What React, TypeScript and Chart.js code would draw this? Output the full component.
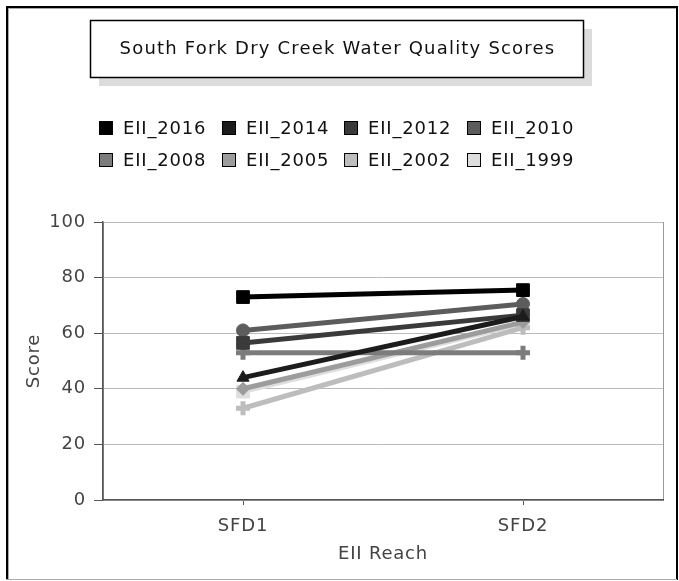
import React, { useEffect, useRef } from "react";
import { Chart, registerables } from "chart.js";
Chart.register(...registerables);

const chartTitle = "South Fork Dry Creek Water Quality Scores";
const categories = ["SFD1", "SFD2"];
const seriesNames = ["EII_2016", "EII_2014", "EII_2012", "EII_2010", "EII_2008", "EII_2005", "EII_2002", "EII_1999"];
const seriesColors = ["#000000", "#1c1c1c", "#3a3a3a", "#5c5c5c", "#7c7c7c", "#9c9c9c", "#bdbdbd", "#dedede"];
const pointStyles = ["rect", "triangle", "rect", "circle", "cross", "rectRot", "cross", "rect"];
const eii2016 = [73, 75.5];
const eii2014 = [44, 66];
const eii2012 = [56.5, 66.5];
const eii2010 = [61, 70.5];
const eii2008 = [53, 53];
const eii2005 = [40, 64];
const eii2002 = [33, 62];
const eii1999 = [39, 63.5];
const seriesValues = [eii2016, eii2014, eii2012, eii2010, eii2008, eii2005, eii2002, eii1999];
const yTicks = [0, 20, 40, 60, 80, 100];
const xTitle = "EII Reach";
const yTitle = "Score";

const FONT = "'DejaVu Sans', sans-serif";

const markerRadius = (s: string) => (s === "rect" ? 9 : s === "cross" ? 7 : s === "triangle" ? 7 : 6.5);

const decor = {
  id: "decor",
  beforeDraw(chart: any) {
    const ctx = chart.ctx;
    const W = chart.width, H = chart.height;
    ctx.save();
    ctx.fillStyle = "#ffffff";
    ctx.fillRect(0, 0, W, H);
    // outer frame
    ctx.fillStyle = "#000";
    ctx.fillRect(6, 6, 2, H - 7);
    ctx.fillRect(6, 6, W - 8, 2);
    ctx.fillRect(W - 3, 6, 2, H - 7);
    ctx.fillStyle = "#aaa";
    ctx.fillRect(8, 8, 1, H - 9);
    ctx.fillRect(8, 8, W - 11, 1);
    ctx.fillRect(6, H - 2, W - 8, 1);
    // title box
    const tx = 90, ty = 20, tw = 493, th = 57;
    ctx.fillStyle = "#dcdcdc";
    ctx.fillRect(tx + 9, ty + 9, tw, th);
    ctx.fillStyle = "#fff";
    ctx.fillRect(tx, ty, tw, th);
    ctx.strokeStyle = "#000";
    ctx.lineWidth = 1.5;
    ctx.strokeRect(tx + 0.5, ty + 0.5, tw, th);
    ctx.fillStyle = "#111";
    ctx.font = "18px " + FONT;
    (ctx as any).letterSpacing = "1.2px";
    ctx.textAlign = "center";
    ctx.textBaseline = "middle";
    ctx.fillText(chartTitle, tx + tw / 2 + 1, ty + th / 2 + 1);
    // legend
    const colX = [99, 222, 344, 467];
    const rowY = [128, 160];
    ctx.font = "18px " + FONT;
    (ctx as any).letterSpacing = "0.8px";
    ctx.textAlign = "left";
    chart.data.datasets.forEach((ds: any, i: number) => {
      const x = colX[i % 4];
      const y = rowY[Math.floor(i / 4)];
      ctx.fillStyle = ds.borderColor;
      ctx.fillRect(x, y - 7, 14, 14);
      ctx.strokeStyle = "#000";
      ctx.lineWidth = 1;
      ctx.strokeRect(x + 0.5, y - 6.5, 13, 13);
      ctx.fillStyle = "#111";
      ctx.fillText(ds.label, x + 24, y + 1);
    });
    // plot outline
    const a = chart.chartArea;
    ctx.strokeStyle = "#999";
    ctx.lineWidth = 1;
    ctx.strokeRect(a.left + 0.5, a.top + 0.5, a.right - a.left, a.bottom - a.top);
    ctx.restore();
    (ctx as any).letterSpacing = "0.8px";
  },
  beforeDatasetsDraw(chart: any) {
    (chart.ctx as any).letterSpacing = "0px";
  },
};

export default function App() {
  const ref = useRef<HTMLCanvasElement | null>(null);
  useEffect(() => {
    if (!ref.current) return;
    const chart = new Chart(ref.current, {
      type: "line",
      data: {
        labels: categories,
        datasets: seriesNames.map((name, i) => ({
          label: name,
          data: seriesValues[i],
          borderColor: seriesColors[i],
          backgroundColor: seriesColors[i],
          pointBackgroundColor: seriesColors[i],
          pointBorderColor: seriesColors[i],
          pointStyle: pointStyles[i] as any,
          pointRadius: markerRadius(pointStyles[i]),
          pointBorderWidth: pointStyles[i] === "cross" ? 5 : 1,
          borderWidth: 5,
          tension: 0,
          fill: false,
        })),
      },
      options: {
        animation: false,
        responsive: false,
        devicePixelRatio: 1,
        layout: { padding: { left: 24, right: 16, top: 222, bottom: 16 } },
        plugins: { legend: { display: false }, title: { display: false }, tooltip: { enabled: false } },
        scales: {
          x: {
            offset: true,
            grid: { display: true, drawOnChartArea: false, drawTicks: true, tickLength: 5, color: "#555" },
            border: { color: "#555", width: 1.5 },
            ticks: { color: "#444", font: { family: FONT, size: 18 }, padding: 11 },
            title: { display: true, text: xTitle, color: "#444", font: { family: FONT, size: 18 }, padding: { top: 2, bottom: 0 } },
            afterFit: (s: any) => { s.height = 65; },
          },
          y: {
            min: 0,
            max: 100,
            afterBuildTicks: (s: any) => { s.ticks = yTicks.map((v) => ({ value: v })); },
            grid: { color: "#bbb", tickLength: 9, tickColor: "#555", lineWidth: 1 },
            border: { color: "#555", width: 1.5 },
            ticks: { color: "#444", font: { family: FONT, size: 18 }, padding: 8 },
            title: { display: true, text: yTitle, color: "#444", font: { family: FONT, size: 18 }, padding: { top: 0, bottom: 4 } },
            afterFit: (s: any) => { s.width = 79; },
          },
        },
      },
      plugins: [decor],
    });
    return () => chart.destroy();
  }, []);
  return (
    <div style={{ position: "fixed", left: 0, top: 0, width: 679, height: 581 }}>
      <canvas ref={ref} width={679} height={581} style={{ display: "block", width: 679, height: 581 }} />
    </div>
  );
}
